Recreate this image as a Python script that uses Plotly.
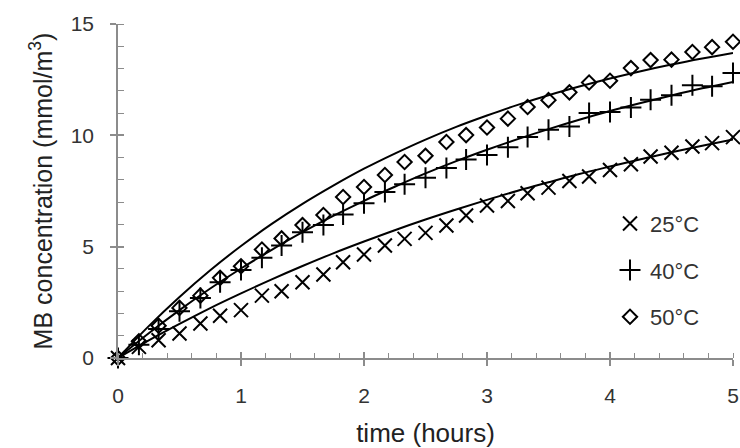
import plotly.graph_objects as go

# observation times (hours)
t_obs = [0, 0.17, 0.33, 0.5, 0.67, 0.83, 1.0, 1.17, 1.33, 1.5, 1.67, 1.83, 2.0, 2.17, 2.33,
         2.5, 2.67, 2.83, 3.0, 3.17, 3.33, 3.5, 3.67, 3.83, 4.0, 4.17, 4.33, 4.5, 4.67, 4.83, 5.0]
# measured MB concentration (mmol/m3)
c25 = [0, 0.5, 0.8, 1.1, 1.55, 1.9, 2.15, 2.8, 3.0, 3.4, 3.75, 4.3, 4.65, 5.05, 5.35,
       5.62, 5.95, 6.4, 6.85, 7.05, 7.4, 7.65, 7.95, 8.15, 8.44, 8.7, 9.05, 9.22, 9.5, 9.65, 9.92]
c40 = [0, 0.6, 1.3, 2.1, 2.7, 3.4, 3.95, 4.5, 5.05, 5.65, 5.97, 6.45, 6.95, 7.45, 7.8,
       8.1, 8.53, 8.92, 9.12, 9.47, 9.92, 10.25, 10.4, 11.0, 11.05, 11.25, 11.6, 11.8, 12.25, 12.2, 12.8]
c50 = [0, 0.75, 1.45, 2.25, 2.8, 3.6, 4.12, 4.87, 5.37, 5.97, 6.42, 7.23, 7.68, 8.22, 8.8,
       9.08, 9.7, 10.01, 10.35, 10.75, 11.27, 11.58, 11.93, 12.37, 12.45, 13.02, 13.38, 13.4, 13.74, 13.96, 14.2]

# model curves
t_fit = [0, 0.25, 0.5, 0.75, 1.0, 1.25, 1.5, 1.75, 2.0, 2.25, 2.5, 2.75, 3.0, 3.25, 3.5,
         3.75, 4.0, 4.25, 4.5, 4.75, 5.0]
f25 = [0, 0.79, 1.53, 2.24, 2.90, 3.53, 4.13, 4.70, 5.23, 5.74, 6.22, 6.67, 7.10, 7.51, 7.89,
       8.26, 8.60, 8.93, 9.24, 9.53, 9.81]
f40 = [0, 1.11, 2.15, 3.12, 4.02, 4.86, 5.65, 6.38, 7.06, 7.69, 8.29, 8.84, 9.35, 9.83, 10.28,
       10.70, 11.09, 11.45, 11.79, 12.11, 12.40]
f50 = [0, 1.43, 2.74, 3.94, 5.03, 6.02, 6.92, 7.74, 8.50, 9.18, 9.81, 10.38, 10.89, 11.37, 11.80,
       12.19, 12.55, 12.88, 13.18, 13.45, 13.70]

labels = ["25°C", "40°C", "50°C"]
x_ticks = [0, 1, 2, 3, 4, 5]
y_ticks = [0, 5, 10, 15]

FONT = "Liberation Sans, Arial, sans-serif"
AX = "#8c8c8c"

fig = go.Figure()

for f in (f25, f40, f50):
    fig.add_trace(go.Scatter(x=t_fit, y=f, mode="lines", line=dict(color="black", width=2, shape="spline"),
                             showlegend=False, hoverinfo="skip"))

symbols = ["x-thin-open", "cross-thin-open", "diamond-open"]
sizes = [14, 15, 11]
for c, lab, sym, sz in zip((c25, c40, c50), labels, symbols, sizes):
    fig.add_trace(go.Scatter(x=t_obs, y=c, mode="markers", name=lab, legendgroup=lab,
                             marker=dict(symbol=sym, size=sz, color="black",
                                         line=dict(color="black", width=2)),
                             cliponaxis=False))

# invisible trace for overlay axes (inside part of crossing major ticks)
fig.add_trace(go.Scatter(x=[None], y=[None], xaxis="x2", yaxis="y2", showlegend=False, hoverinfo="skip"))

fig.update_layout(
    width=740, height=448,
    margin=dict(l=118, r=7, t=24, b=90),
    paper_bgcolor="white", plot_bgcolor="white",
    font=dict(family=FONT, color="#333333"),
    showlegend=True,
    legend=dict(x=0.80, y=0.465, xanchor="left", yanchor="top", bgcolor="rgba(0,0,0,0)",
                font=dict(size=22, color="#333333"), tracegroupgap=15, itemwidth=30),
    xaxis=dict(range=[0, 5], tickvals=x_ticks, ticks="outside", ticklen=6, tickwidth=1.5,
               tickcolor=AX, showline=True, linecolor=AX, linewidth=1.5, showgrid=False,
               zeroline=False, tickfont=dict(size=21, color="#333333"), ticklabelstandoff=12,
               automargin=False,
               minor=dict(dtick=0.2, ticks="inside", ticklen=5, tickcolor=AX, tickwidth=1),
               title=dict(text="time (hours)", font=dict(size=26, color="#222222"), standoff=20)),
    yaxis=dict(range=[0, 15], tickvals=y_ticks, ticks="outside", ticklen=6, tickwidth=1.5,
               tickcolor=AX, showline=True, linecolor=AX, linewidth=1.5, showgrid=False,
               zeroline=False, tickfont=dict(size=21, color="#333333"), ticklabelstandoff=12,
               automargin=False,
               minor=dict(dtick=1, ticks="inside", ticklen=6, tickcolor=AX, tickwidth=1),
               title=dict(text="MB concentration (mmol/m<sup>3</sup>)",
                          font=dict(size=25, color="#222222"), standoff=11)),
    xaxis2=dict(overlaying="x", matches="x", anchor="y2", tickvals=x_ticks, ticks="inside",
                ticklen=6, tickwidth=1.5, tickcolor=AX, showticklabels=False, showline=False,
                showgrid=False, zeroline=False, automargin=False),
    yaxis2=dict(overlaying="y", matches="y", anchor="x2", tickvals=y_ticks, ticks="inside",
                ticklen=6, tickwidth=1.5, tickcolor=AX, showticklabels=False, showline=False,
                showgrid=False, zeroline=False, automargin=False),
)

fig.write_html("out.html")
